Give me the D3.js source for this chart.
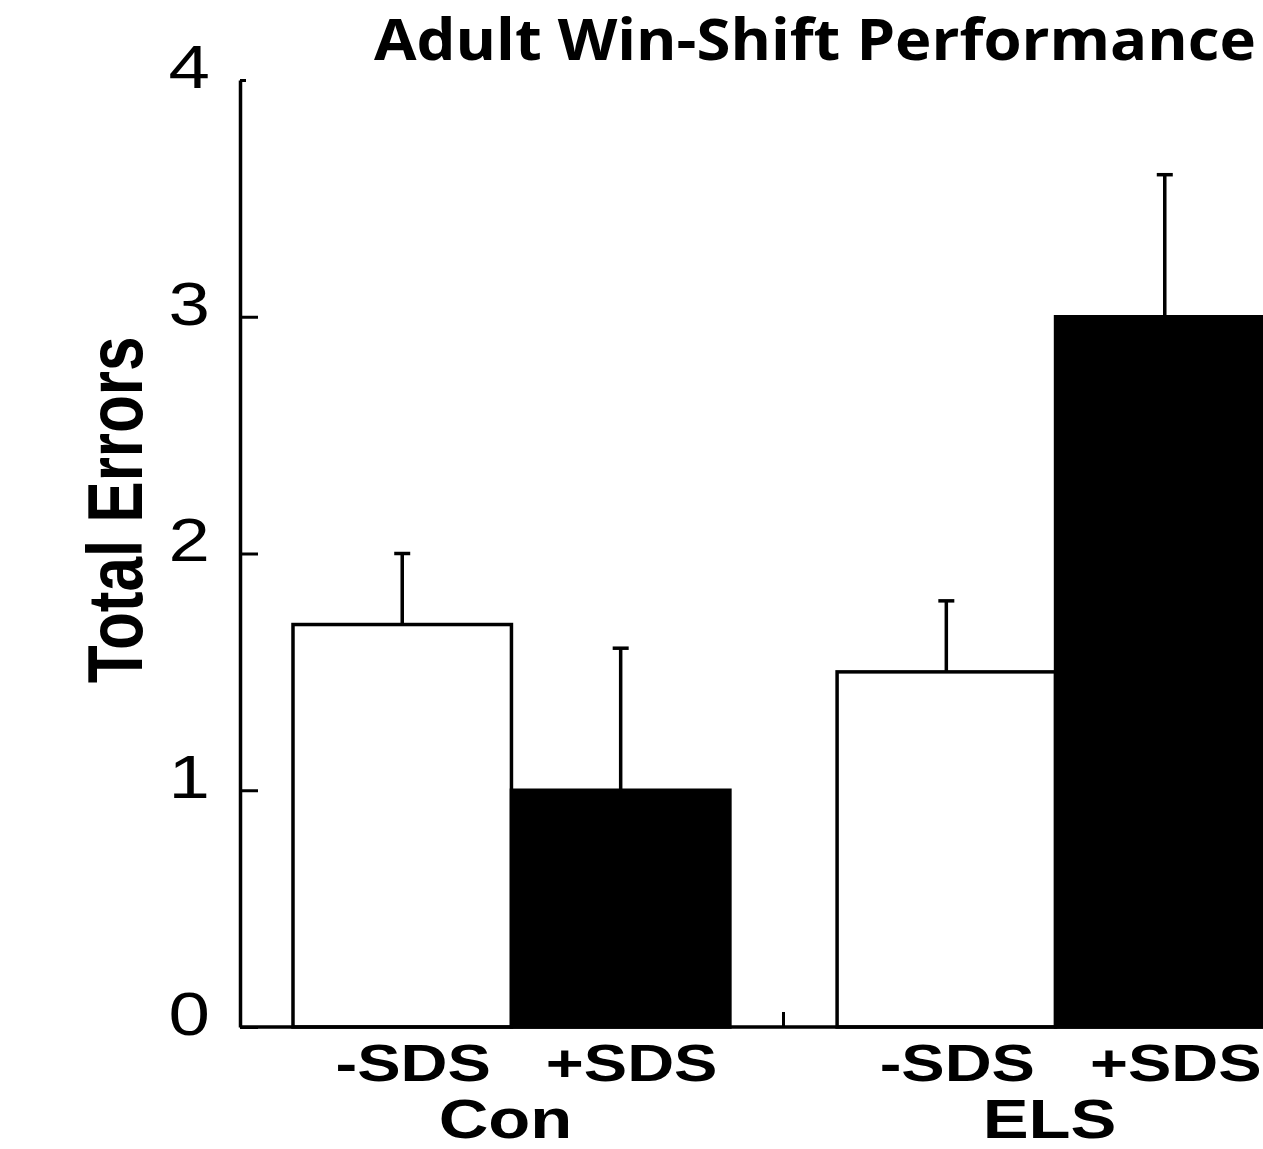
<!DOCTYPE html>
<html>
<head>
<meta charset="utf-8">
<script src="https://cdn.jsdelivr.net/npm/d3@7"></script>
<style>
  html, body { margin: 0; padding: 0; background: #fff; overflow: hidden; }
  svg { display: block; }
</style>
</head>
<body>
<div class="canva"></div>
<script>
// Adult win-shift bar chart
const groups = ['Con', 'ELS'];
const treatments = ['-SDS', '+SDS'];
const conMeans = [1.7, 1.0];
const conErrors = [0.3, 0.6];
const elsMeans = [1.5, 3.0];
const elsErrors = [0.3, 0.6];
const yTicks = [0, 1, 2, 3, 4];

const rows = [];
groups.forEach((g, gi) => {
    const means = gi === 0 ? conMeans : elsMeans;
    const errs = gi === 0 ? conErrors : elsErrors;
    treatments.forEach((t, ti) => {
        rows.push({group: g, treatment: t, mean: means[ti], err: errs[ti]});
    });
});

const width = 1263, height = 1149;
const stretch = 1.25; // source figure is stretched sideways

const svg = d3.select('.canva').append('svg')
    .attr('width', width)
    .attr('height', height);

svg.append('rect')
    .attr('width', width)
    .attr('height', height)
    .attr('fill', '#fff');

// scales
const y = d3.scaleLinear()
    .domain([0, 4])
    .range([1027, 80]);

const x0 = d3.scaleBand()
    .domain(groups)
    .range([240, 1327])
    .paddingInner(0.197)
    .paddingOuter(0.0974);

const x1 = d3.scaleBand()
    .domain(treatments)
    .range([0, x0.bandwidth()]);

const fill = d3.scaleOrdinal()
    .domain(treatments)
    .range(['#fff', '#000']);

// bars
svg.append('g').selectAll('rect')
    .data(rows)
    .enter().append('rect')
    .attr('x', d => x0(d.group) + x1(d.treatment))
    .attr('y', d => y(d.mean))
    .attr('width', x1.bandwidth())
    .attr('height', d => y(0) - y(d.mean))
    .attr('fill', d => fill(d.treatment))
    .attr('stroke', '#000')
    .attr('stroke-width', 3.5);

// error bars (upper only)
const errG = svg.append('g')
    .attr('stroke', '#000')
    .attr('stroke-width', 3.5);

const cx = d => x0(d.group) + x1(d.treatment) + x1.bandwidth() / 2;

errG.selectAll('.stem')
    .data(rows)
    .enter().append('line')
    .attr('class', 'stem')
    .attr('x1', cx).attr('x2', cx)
    .attr('y1', d => y(d.mean))
    .attr('y2', d => y(d.mean + d.err));

errG.selectAll('.cap')
    .data(rows)
    .enter().append('line')
    .attr('class', 'cap')
    .attr('x1', d => cx(d) - 8).attr('x2', d => cx(d) + 8)
    .attr('y1', d => y(d.mean + d.err))
    .attr('y2', d => y(d.mean + d.err));

// y axis, ticks point inward
const yAxis = d3.axisLeft(y)
    .tickValues(yTicks)
    .tickFormat(d3.format('d'))
    .tickSizeInner(-18)
    .tickSizeOuter(0)
    .tickPadding(0);

const yG = svg.append('g')
    .attr('transform', 'translate(240,0)')
    .call(yAxis);

yG.select('.domain').attr('stroke-width', 3.5);
yG.selectAll('.tick line').attr('stroke-width', 3)
    .filter(d => d === 4).attr('x2', 6);
yG.selectAll('.tick text')
    .attr('x', null)
    .attr('dy', '0.36em')
    .attr('transform', `translate(-30,-15) scale(${1.2},1)`)
    .style('font-family', '"Liberation Sans", Arial, sans-serif')
    .style('font-size', '62px')
    .attr('fill', '#000');

// x baseline and middle tick
svg.append('line')
    .attr('x1', 240).attr('x2', width)
    .attr('y1', y(0)).attr('y2', y(0))
    .attr('stroke', '#000')
    .attr('stroke-width', 3.5);

const midX = x0('ELS') - (x0.step() - x0.bandwidth()) / 2;
svg.append('line')
    .attr('x1', midX).attr('x2', midX)
    .attr('y1', y(0)).attr('y2', y(0) - 15)
    .attr('stroke', '#000')
    .attr('stroke-width', 3);

// category labels
const labelFont = '"Liberation Sans", Arial, sans-serif';

svg.append('g').selectAll('text')
    .data(rows)
    .enter().append('text')
    .attr('transform', d => `translate(${cx(d) + 11},1081) scale(${stretch},1)`)
    .attr('text-anchor', 'middle')
    .style('font-family', labelFont)
    .style('font-weight', 'bold')
    .style('font-size', '52px')
    .text(d => d.treatment);

svg.append('g').selectAll('text')
    .data(groups)
    .enter().append('text')
    .attr('transform', d => `translate(${x0(d) + x0.bandwidth() / 2 - 6},1138) scale(${stretch},1)`)
    .attr('text-anchor', 'middle')
    .style('font-family', labelFont)
    .style('font-weight', 'bold')
    .style('font-size', '55px')
    .text(d => d);

// y label
svg.append('text')
    .attr('transform', `translate(142,510) scale(${stretch},1) rotate(-90)`)
    .attr('text-anchor', 'middle')
    .style('font-family', labelFont)
    .style('font-weight', 'bold')
    .style('font-size', '62px')
    .text('Total Errors');

// title
svg.append('text')
    .attr('x', 1256)
    .attr('y', 60)
    .attr('text-anchor', 'end')
    .attr('textLength', 882)
    .attr('lengthAdjust', 'spacingAndGlyphs')
    .style('font-family', '"Open Sans", "Noto Sans", sans-serif')
    .style('font-weight', 700)
    .style('font-size', '57px')
    .text('Adult Win-Shift Performance');
</script>
</body>
</html>
